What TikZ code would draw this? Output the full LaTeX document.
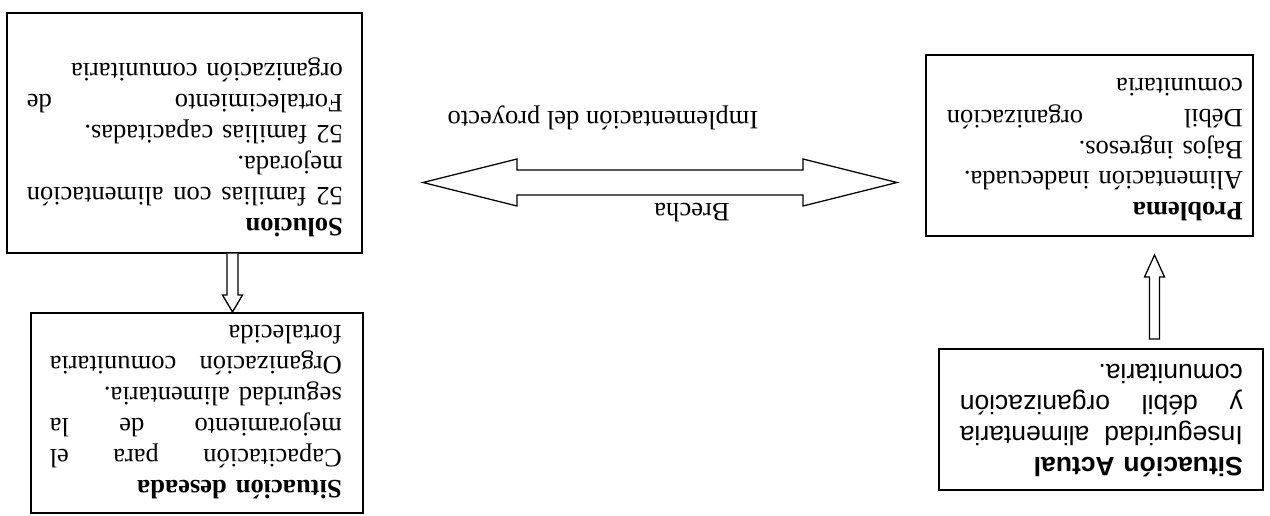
\documentclass[tikz,border=0pt]{standalone}
\usepackage{fontspec}
\setmainfont{Liberation Serif}
\setsansfont{Liberation Sans}
\newcommand{\jline}[1]{\noindent\hbox to \hsize{\spaceskip=0pt\xspaceskip=0pt #1}}
\begin{document}
\begin{tikzpicture}[x=1pt,y=1pt,
  box/.style={draw, line width=1.5pt, inner sep=0pt},
  txt/.style={rotate=180, anchor=base west, inner sep=0pt, align=left,
    font=\fontsize{26.5}{31}\selectfont},
  lbl/.style={rotate=180, inner sep=0pt, font=\fontsize{26.5}{31}\selectfont},
  blk/.style={draw, line width=1.3pt, fill=white, line join=miter}]
\useasboundingbox (0,0) rectangle (1270,515);
% boxes
\node[box, minimum width=355pt, minimum height=240pt] (sol) at (184.5,382) {};
\node[box, minimum width=332pt, minimum height=200pt] (des) at (197,102) {};
\node[box, minimum width=327pt, minimum height=181pt] (pro) at (1089.5,369.5) {};
\node[box, minimum width=324pt, minimum height=141pt] (act) at (1101,95.5) {};
% texts
\node[txt, text width=316pt] (solt) at (343,296) {\textbf{Solucion}\\
\jline{52 familias con alimentación}\\
mejorada.\\
52 familias capacitadas.\\
\jline{Fortalecimiento de}\\
organización comunitaria};
\node[txt, text width=292pt] (dest) at (342,35) {\textbf{Situación deseada}\\
\jline{Capacitación para el}\\
\jline{mejoramiento de la}\\
seguridad alimentaria.\\
\jline{Organización comunitaria}\\
fortalecida};
\node[txt, text width=296pt] (prot) at (1243,312) {\textbf{Problema}\\
Alimentación inadecuada.\\
Bajos ingresos.\\
\jline{Débil organización}\\
comunitaria};
\node[txt, text width=283pt, font=\sffamily\fontsize{26.5}{31}\selectfont] (actt) at (1243,58) {\textbf{Situación Actual}\\
\jline{Inseguridad alimentaria}\\
\jline{y débil organización}\\
comunitaria.};
% labels
\node[lbl] (impl) at (603,397) {Implementación del proyecto};
\node[lbl] (bre) at (692,302) {Brecha};
% double arrow (gap)
\draw[blk] (423,332.5) -- (517,356) -- (517,345) -- (803,345) -- (803,356)
  -- (897,332.5) -- (803,309) -- (803,320) -- (517,320) -- (517,309) -- cycle;
% down arrow: solucion -> deseada
\draw[blk] (sol.south -| 227,0) -- (227,220) -- (222.5,220) -- (232.5,203)
  -- (242.5,220) -- (238,220) -- (sol.south -| 238,0);
% up arrow: actual -> problema
\draw[blk] (1149.5,176) -- (1149.5,238) -- (1144.5,238) -- (1154.5,260)
  -- (1164.5,238) -- (1159.5,238) -- (1159.5,176) -- cycle;
\end{tikzpicture}
\end{document}
